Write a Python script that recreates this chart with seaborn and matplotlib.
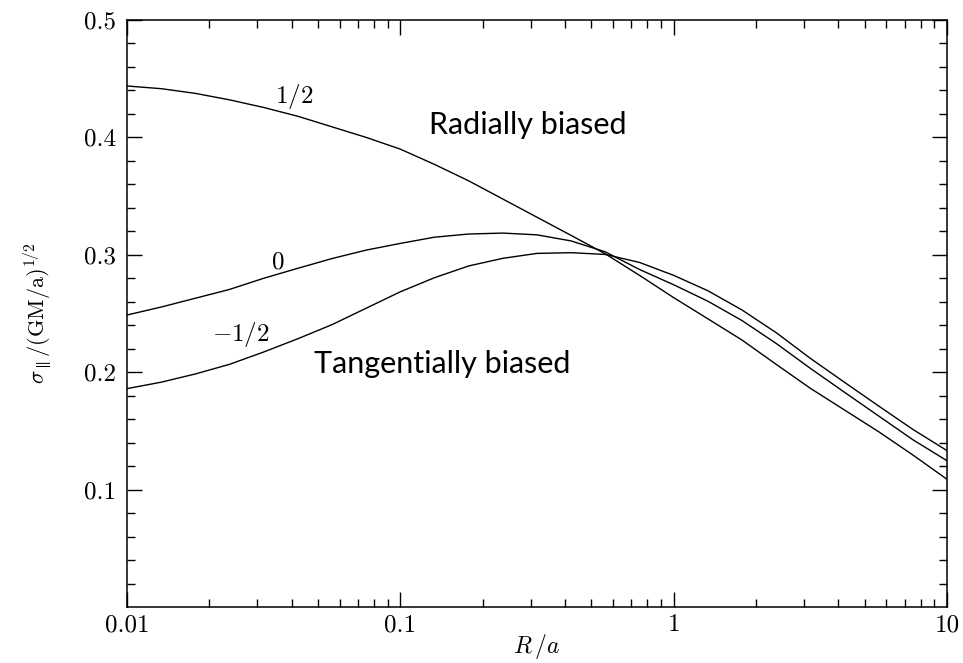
import matplotlib
matplotlib.use("Agg")
import matplotlib.pyplot as plt
import numpy as np
import pandas as pd
import seaborn as sns
from matplotlib.ticker import FixedLocator, LogLocator, NullFormatter

# %% Data (log10 R/a grid, sigma values)
log_r = [-2.0, -1.875, -1.75, -1.625, -1.5, -1.375, -1.25, -1.125, -1.0,
         -0.875, -0.75, -0.625, -0.5, -0.375, -0.25, -0.125, 0.0,
         0.125, 0.25, 0.375, 0.5, 0.625, 0.75, 0.875, 1.0]

sigma_radial = [0.4438, 0.4415, 0.4375, 0.4320, 0.4255, 0.4180, 0.4090, 0.4000, 0.3900,
                0.3770, 0.3630, 0.3475, 0.3320, 0.3165, 0.3008, 0.2825, 0.2635,
                0.2455, 0.2274, 0.2067, 0.1863, 0.1678, 0.1493, 0.1295, 0.1088]

sigma_iso = [0.2487, 0.2555, 0.2630, 0.2705, 0.2800, 0.2885, 0.2968, 0.3040, 0.3097,
             0.3150, 0.3177, 0.3185, 0.3170, 0.3118, 0.3025, 0.2875, 0.2745,
             0.2605, 0.2440, 0.2245, 0.2033, 0.1829, 0.1627, 0.1425, 0.1246]

sigma_tang = [0.1860, 0.1915, 0.1985, 0.2067, 0.2172, 0.2285, 0.2405, 0.2545, 0.2685,
              0.2805, 0.2905, 0.2970, 0.3012, 0.3018, 0.3003, 0.2935, 0.2825,
              0.2694, 0.2530, 0.2337, 0.2118, 0.1914, 0.1712, 0.1513, 0.1332]

betas = ["1/2", "0", "-1/2"]

r = 10.0 ** np.array(log_r)
df = pd.concat([
    pd.DataFrame({"R": r, "sigma": sigma_radial, "beta": betas[0]}),
    pd.DataFrame({"R": r, "sigma": sigma_iso, "beta": betas[1]}),
    pd.DataFrame({"R": r, "sigma": sigma_tang, "beta": betas[2]}),
])

# %% Style
sns.set_style("ticks")
plt.rcParams["mathtext.fontset"] = "cm"
plt.rcParams["font.family"] = ["cmr10", "DejaVu Serif"]
plt.rcParams["axes.formatter.use_mathtext"] = True
plt.rcParams["axes.linewidth"] = 1.1
plt.rcParams["text.color"] = "black"
plt.rcParams["axes.labelcolor"] = "black"

fig, ax = plt.subplots(figsize=(9.63, 6.63), dpi=100)
fig.subplots_adjust(left=127 / 963, right=947 / 963, top=1 - 20 / 663, bottom=1 - 607 / 663)

sns.lineplot(data=df, x="R", y="sigma", hue="beta", palette=["black"] * 3,
             linewidth=1.0, legend=False, ax=ax, estimator=None, sort=False)

ax.set_xscale("log")
ax.set_xlim(0.01, 10)
ax.set_ylim(0, 0.5)

ax.set_xticks([0.01, 0.1, 1, 10])
ax.set_xticklabels(["0.01", "0.1", "1", "10"])
ax.xaxis.set_minor_locator(LogLocator(base=10, subs=np.arange(2, 10)))
ax.xaxis.set_minor_formatter(NullFormatter())

ax.set_yticks([0.1, 0.2, 0.3, 0.4, 0.5])
ax.set_yticklabels(["0.1", "0.2", "0.3", "0.4", "0.5"])
ax.yaxis.set_minor_locator(FixedLocator([v / 100 for v in range(2, 50, 2)]))

ax.tick_params(which="both", direction="in", top=True, right=True, width=1.0,
               labelsize=18, colors="black")
ax.tick_params(which="major", length=11)
ax.tick_params(which="minor", length=6)
ax.tick_params(axis="x", which="major", pad=5)
ax.tick_params(axis="y", which="major", pad=8)
for s in ax.spines.values():
    s.set_color("black")

ax.set_xlabel(r"$R\,/a$", fontsize=17, labelpad=-3)
ax.set_ylabel(r"$\sigma_{\parallel}/(\mathrm{GM/a})^{1/2}$", fontsize=16, labelpad=22)

# curve labels
ax.text(0.0408, 0.435, r"$1/2$", fontsize=18, ha="center", va="center")
ax.text(0.0356, 0.2933, r"$0$", fontsize=18, ha="center", va="center")
ax.text(0.0261, 0.2317, r"$-1/2$", fontsize=18, ha="center", va="center")

# regions
ax.text(0.293, 0.4106, "Radially biased", fontsize=22, family="Lato",
        ha="center", va="center", color="black")
ax.text(0.1426, 0.207, "Tangentially biased", fontsize=22, family="Lato",
        ha="center", va="center", color="black")

fig.savefig("out.png", dpi=100)
